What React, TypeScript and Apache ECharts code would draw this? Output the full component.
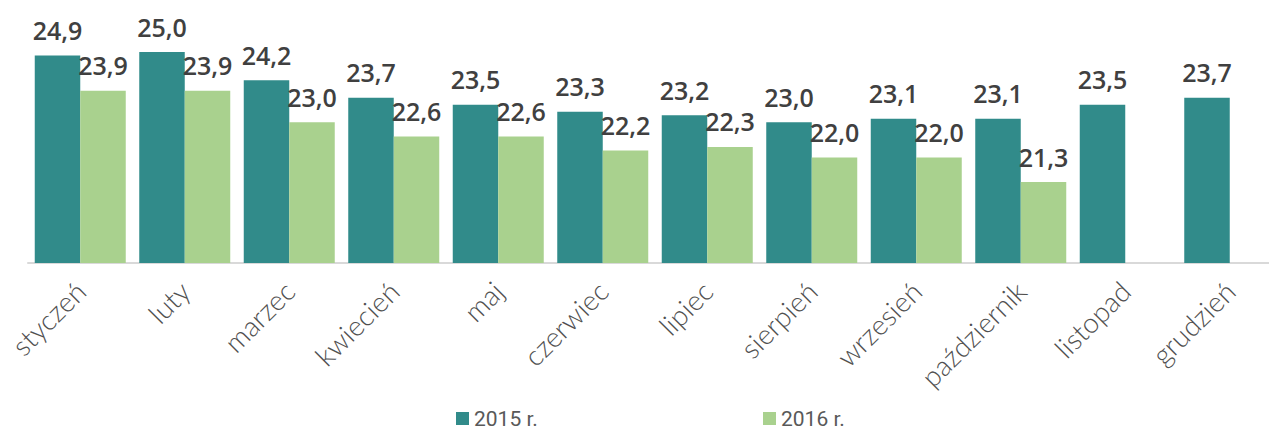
import React, { useEffect, useRef } from "react";
import * as echarts from "echarts";

const months = ["styczeń", "luty", "marzec", "kwiecień", "maj", "czerwiec", "lipiec", "sierpień", "wrzesień", "październik", "listopad", "grudzień"];
const values2015 = [24.9, 25.0, 24.2, 23.7, 23.5, 23.3, 23.2, 23.0, 23.1, 23.1, 23.5, 23.7];
const values2016: (number | null)[] = [23.9, 23.9, 23.0, 22.6, 22.6, 22.2, 22.3, 22.0, 22.0, 21.3, null, null];
const seriesNames = ["2015 r.", "2016 r."];
const colors = ["#318B8A", "#A9D18E"];

export default function App() {
  const ref = useRef<HTMLDivElement>(null);
  useEffect(() => {
    if (!ref.current) return;
    const chart = echarts.init(ref.current, null, { renderer: "svg" });
    const labelCfg = {
      show: true,
      position: "top" as const,
      distance: 13,
      fontFamily: "Open Sans",
      fontSize: 25,
      fontWeight: 600,
      color: "#404040",
      formatter: (p: any) => (p.value == null ? "" : Number(p.value).toFixed(1).replace(".", ",")),
    };
    const legendText = { fontFamily: "Roboto", fontSize: 21, color: "#595959", lineHeight: 21 };
    chart.setOption({
      animation: false,
      grid: { left: 28, top: 52, width: 1254, height: 211, containLabel: false },
      legend: [
        {
          data: [seriesNames[0]],
          left: 456,
          top: 408,
          padding: 0,
          icon: "rect",
          itemWidth: 13,
          itemHeight: 13,
          itemGap: 6,
          textStyle: legendText,
        },
        {
          data: [seriesNames[1]],
          left: 763,
          top: 408,
          padding: 0,
          icon: "rect",
          itemWidth: 13,
          itemHeight: 13,
          itemGap: 6,
          textStyle: legendText,
        },
      ],
      xAxis: {
        type: "category",
        data: months,
        axisLine: { lineStyle: { color: "#D9D9D9", width: 2 } },
        axisTick: { show: false },
        axisLabel: {
          rotate: 45,
          interval: 0,
          margin: 23,
          fontFamily: "Lato",
          fontSize: 28,
          fontWeight: 300,
          color: "#505050",
        },
      },
      yAxis: {
        type: "value",
        min: 19,
        max: 25,
        show: false,
        splitLine: { show: false },
      },
      series: [
        {
          name: seriesNames[0],
          type: "bar",
          data: values2015,
          barWidth: 45.5,
          barGap: "0%",
          itemStyle: { color: colors[0] },
          label: labelCfg,
        },
        {
          name: seriesNames[1],
          type: "bar",
          data: values2016,
          barWidth: 45.5,
          barGap: "0%",
          itemStyle: { color: colors[1] },
          label: labelCfg,
        },
      ],
    });
    return () => chart.dispose();
  }, []);
  return (
    <div style={{ width: 1269, height: 434, position: "absolute", left: 0, top: 0, overflow: "hidden" }}>
      <div ref={ref} style={{ width: 1300, height: 434 }} />
    </div>
  );
}
